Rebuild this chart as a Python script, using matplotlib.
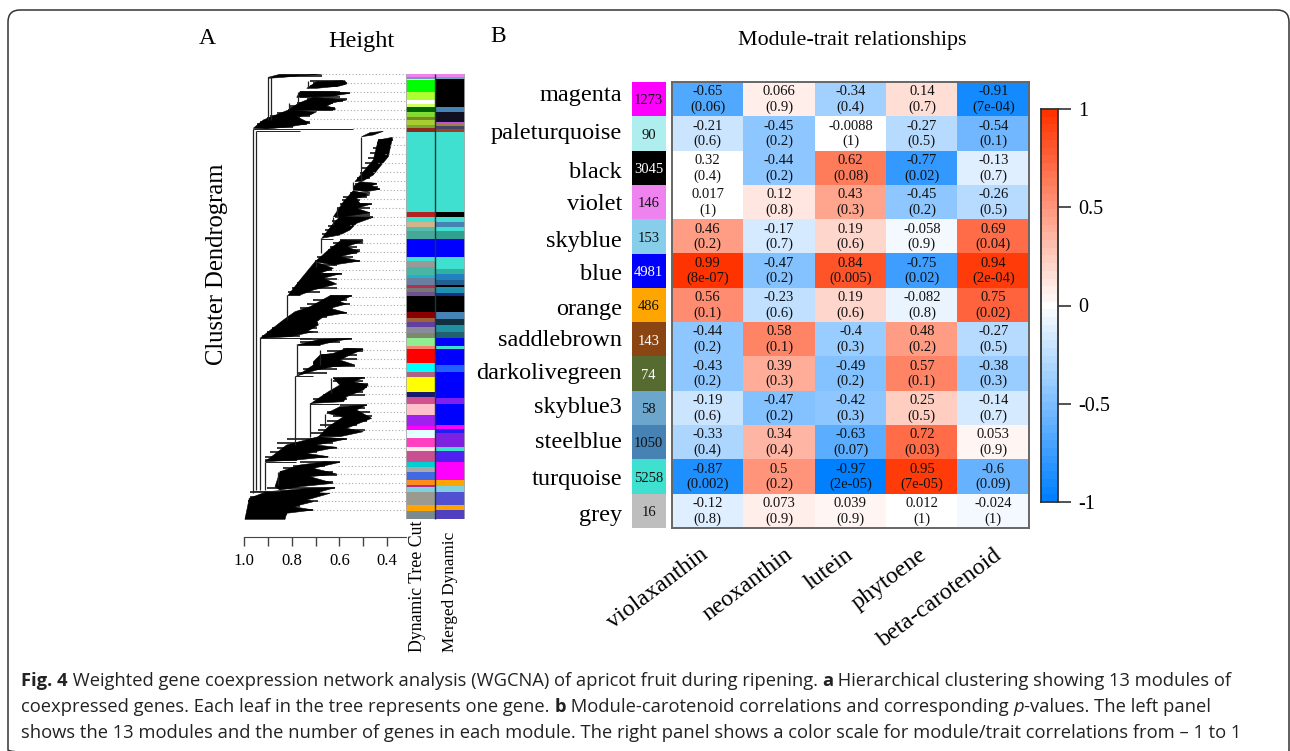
#!/usr/bin/env python3
#encoding: utf-8

import numpy as np
import matplotlib
matplotlib.use('Agg')
import matplotlib.pyplot as plt
from matplotlib.colors import LinearSegmentedColormap
from matplotlib.patches import FancyBboxPatch

plt.rcParams['font.family'] = ['Liberation Serif', 'DejaVu Serif']

# 模块 / 性状
modules = ['magenta', 'paleturquoise', 'black', 'violet', 'skyblue', 'blue', 'orange',
           'saddlebrown', 'darkolivegreen', 'skyblue3', 'steelblue', 'turquoise', 'grey']
module_colors = ['#FF00FF', '#AFEEEE', '#000000', '#EE82EE', '#87CEEB', '#0000FF', '#FFA500',
                 '#8B4513', '#556B2F', '#6CA6CD', '#4682B4', '#40E0D0', '#BEBEBE']
module_sizes = [1273, 90, 3045, 146, 153, 4981, 486, 143, 74, 58, 1050, 5258, 16]
traits = ['violaxanthin', 'neoxanthin', 'lutein', 'phytoene', 'beta-carotenoid']

cor_text = [['-0.65', '0.066', '-0.34', '0.14', '-0.91'],
            ['-0.21', '-0.45', '-0.0088', '-0.27', '-0.54'],
            ['0.32', '-0.44', '0.62', '-0.77', '-0.13'],
            ['0.017', '0.12', '0.43', '-0.45', '-0.26'],
            ['0.46', '-0.17', '0.19', '-0.058', '0.69'],
            ['0.99', '-0.47', '0.84', '-0.75', '0.94'],
            ['0.56', '-0.23', '0.19', '-0.082', '0.75'],
            ['-0.44', '0.58', '-0.4', '0.48', '-0.27'],
            ['-0.43', '0.39', '-0.49', '0.57', '-0.38'],
            ['-0.19', '-0.47', '-0.42', '0.25', '-0.14'],
            ['-0.33', '0.34', '-0.63', '0.72', '0.053'],
            ['-0.87', '0.5', '-0.97', '0.95', '-0.6'],
            ['-0.12', '0.073', '0.039', '0.012', '-0.024']]
p_text = [['0.06', '0.9', '0.4', '0.7', '7e-04'],
          ['0.6', '0.2', '1', '0.5', '0.1'],
          ['0.4', '0.2', '0.08', '0.02', '0.7'],
          ['1', '0.8', '0.3', '0.2', '0.5'],
          ['0.2', '0.7', '0.6', '0.9', '0.04'],
          ['8e-07', '0.2', '0.005', '0.02', '2e-04'],
          ['0.1', '0.6', '0.6', '0.8', '0.02'],
          ['0.2', '0.1', '0.3', '0.2', '0.5'],
          ['0.2', '0.3', '0.2', '0.1', '0.3'],
          ['0.6', '0.2', '0.3', '0.5', '0.7'],
          ['0.4', '0.4', '0.07', '0.03', '0.9'],
          ['0.002', '0.2', '2e-05', '7e-05', '0.09'],
          ['0.8', '0.9', '0.9', '1', '1']]

# 聚类树：虚线行的树梢高度
tip_heights = [.674, .570, .556, .570, .611, .723, .542, .381, .388, .409, .437, .458, .444,
               .430, .514, .465, .472, .556, .598, .500, .514, .514, .632, .611, .611,
               .549, .556, .570, .688, .688, .549, .500, .528, .534, .500, .486, .493, .486,
               .472, .465, .493, .556, .611, .646, .605, .611, .618, .646, .688, .709]

# 聚类树：黑色分支团块的轮廓 (高度, 叶序)
clump_h = [
    [.898, .849, .674, .765, .835, .898],
    [.737, .695, .577, .570, .598, .625, .695],
    [.779, .765, .625, .556, .625, .695],
    [.814, .772, .709, .570, .625, .653, .618, .618, .765],
    [.961, .919, .814, .695, .723, .779, .723, .807, .905],
    [.507, .472, .416, .458],
    [.535, .458, .437, .377, .395, .430, .458, .500],
    [.542, .514, .444, .465, .430, .486, .542],
    [.625, .583, .542, .472, .528, .514, .465, .528, .472, .583],
    [.674, .625, .598, .458, .528, .556, .598],
    [.702, .646, .591, .500, .570, .514, .598, .514, .625],
    [.814, .765, .702, .625, .681, .591, .667, .611, .709, .765],
    [.933, .835, .786, .723, .639, .549, .598, .570, .639, .570, .667, .695, .688, .737, .709, .807],
    [.779, .681, .549, .625, .681],
    [.709, .681, .625, .570, .500, .556, .598, .535, .625, .695, .779, .709],
    [.723, .646, .598, .625, .493, .542, .479, .500, .570, .583, .709],
    [.688, .646, .583, .653, .598, .486, .528, .465, .500, .570, .500, .598],
    [.912, .821, .688, .570, .695, .611, .737, .646, .779],
    [.870, .849, .765, .660, .598, .709, .611, .723, .625, .765, .849],
    [.996, .978, .905, .723, .618, .695, .639, .737, .709, .793, .709, .821, .828],
]
clump_order = [
    [77.3, 74.3, 74.3, 75.7, 77.3, 78.3],
    [88.3, 81.7, 80.7, 84, 86, 86.7, 88.3],
    [97.3, 91.7, 91.7, 93.3, 96, 96.7],
    [110, 103.3, 97.3, 100, 102.7, 106, 108.3, 110, 110],
    [128.3, 120, 110, 111.7, 115, 116.7, 123.3, 126.7, 129],
    [136.7, 132.7, 131.3, 135],
    [181.7, 160, 140, 137.3, 156.7, 166.7, 175, 180.7],
    [186.7, 181.7, 183.3, 186, 189.3, 191.7, 190],
    [216.7, 201.7, 190.7, 195, 198.3, 203.3, 204, 208.3, 212.7, 216.7],
    [238.3, 223.3, 216.7, 217.3, 223.3, 230, 235],
    [261.7, 250, 240, 241, 246.7, 251.7, 256.7, 261, 265],
    [295, 280, 261.7, 268.3, 273.3, 273.3, 278.3, 284, 290, 295],
    [338.3, 320, 311.7, 306.7, 295.7, 295.7, 301.7, 304, 308.3, 312.7, 316.7, 321.7, 325, 331.7, 331.7, 336.7],
    [345, 339.3, 338.3, 341.7, 345],
    [361.7, 355, 353.3, 348.3, 349.3, 355, 360, 365, 366.7, 370, 376, 365],
    [404, 391.7, 385, 378.3, 377.3, 381.7, 385, 390, 396.7, 401.7, 403.3],
    [436.7, 426.7, 416.7, 413.3, 406.7, 405, 410, 418.3, 421.7, 428.3, 431.7, 436.7],
    [461.7, 445, 436.7, 439, 445, 447.3, 453.3, 456.7, 460],
    [486.7, 471.7, 465, 461.7, 462.3, 468.3, 474, 476.7, 483.3, 486.7, 490],
    [519.3, 498.3, 491.7, 488.3, 487.7, 492.7, 493.3, 500, 501.7, 506.7, 510, 513.3, 519.3],
]

# 聚类树：团块里伸出的细枝 (叶序, 左高度, 右高度)
ray_order = [75.7, 81, 82.7, 84.3, 86, 91.7, 93.3, 95, 97.3, 99.3, 101, 103.3, 105.7, 108.3, 110,
             113.3, 116, 118.3, 121.7, 124, 126.7, 140, 143.3, 148.3, 153.3, 158.3, 163.3, 168.3,
             173.3, 178.3, 184, 186.7, 189.3, 192.7, 196.7, 200, 204, 208.3, 212.7, 215, 217.3,
             220.7, 225.7, 230, 234.3, 240, 243.3, 246.7, 250, 252.7, 256.7, 261, 265, 270, 274,
             279, 283.3, 288, 291.7, 295.7, 300, 304, 308.3, 312.7, 316.7, 323.3, 328.3, 332.3,
             336, 339, 341.7, 348.7, 351.3, 355, 359, 363.3, 366, 369.3, 372.7, 377.7, 380.7, 384,
             387.3, 391.7, 395, 399.3, 405.3, 408.3, 412.3, 416, 420.7, 425, 430, 433.3, 439,
             443.3, 448, 452.3, 456.7, 460, 462.3, 465.7, 468.3, 471.7, 475, 478.3, 481.7, 484.3,
             487.7, 492.3, 496.7, 501.3, 506, 510, 514, 518.3]
ray_left = [.849, .723, .709, .695, .723, .765, .751, .751, .765, .737, .723, .779, .807, .807, .814,
            .863, .891, .905, .933, .947, .947, .437, .444, .458, .472, .479, .493, .507,
            .514, .528, .535, .528, .535, .556, .583, .591, .598, .611, .611, .618, .618,
            .632, .646, .660, .674, .598, .625, .639, .646, .653, .695, .702, .702, .716, .737,
            .758, .779, .800, .814, .639, .709, .737, .765, .786, .821, .849, .884, .905,
            .926, .765, .765, .583, .653, .681, .695, .709, .709, .751, .779, .625, .625, .598,
            .598, .639, .667, .709, .598, .598, .653, .625, .653, .681, .688, .723, .821,
            .863, .863, .891, .912, .912, .765, .793, .835, .849, .821, .849, .863, .863,
            .905, .975, .975, .982, .982, .989, .989, .996]
ray_right = [.674, .583, .570, .577, .604, .598, .556, .611, .598, .570, .583, .625, .653, .618, .625,
             .709, .723, .765, .723, .737, .793, .377, .388, .402, .416, .423, .437, .451,
             .465, .472, .444, .437, .430, .472, .486, .514, .465, .472, .472, .472, .458,
             .528, .556, .570, .598, .500, .500, .528, .514, .528, .542, .514, .611, .632, .591,
             .611, .625, .611, .681, .549, .570, .556, .625, .570, .653, .688, .695, .688,
             .765, .549, .598, .500, .500, .528, .528, .583, .535, .611, .653, .493, .500, .479,
             .486, .500, .493, .570, .486, .493, .472, .465, .486, .528, .493, .570, .570,
             .625, .611, .695, .646, .779, .598, .660, .709, .625, .611, .709, .625, .765,
             .618, .681, .737, .688, .765, .709, .821, .828]

# 聚类树：竖线与横线
vert_h = [.964, .950, .933, .898, .885, .730, .772, .810, .508, .542, .611, .628, .679, .700,
          .818, .776, .786, .723, .660, .637, .912, .856, .681]
vert_top = [128.5, 131, 338.3, 77, 77, 80.7, 91.7, 103.3, 136.7, 181.7, 208.3, 216.7, 238.3, 260,
            295, 345, 376, 403.3, 414, 378.3, 461.7, 471.7, 350]
vert_bot = [493.3, 490, 490, 120, 120, 88.3, 103.3, 110, 181.7, 188.3, 216.7, 225, 253.3, 266.7,
            320, 376, 445, 436.7, 426.7, 393, 490, 485, 365]
horiz_order = [129, 131, 77, 239, 295, 338.3, 345, 376, 404, 461.7, 491]
horiz_left = [.964, .950, .898, .679, .818, .933, .776, .786, .723, .912, .961]
horiz_right = [.542, .765, .885, .625, .765, .720, .681, .709, .600, .780, .850]

# 颜色条带：Dynamic Tree Cut
cut_edges = [74.3, 76.7, 79, 80, 92.3, 100, 104.3, 107.3, 111.7, 115, 117.3, 120, 125, 128.3, 131.7,
             211.7, 216.7, 221.7, 227.3, 230.7, 239, 256.7, 261, 267.3, 275, 278.3, 285, 288.3, 291.7,
             296, 311.7, 318.3, 321.7, 326.7, 333.3, 338.3, 346, 349.3, 362.7, 371.7, 376.7, 391.7,
             397.3, 404, 415, 425.7, 430, 437.7, 446.7, 451, 461.7, 466.7, 471.7, 480, 485, 486.7,
             491.7, 505, 510.7, 519.3]
cut_colors = ['#EE82EE', '#8A8AC8', '#D8E8D8', '#00FF00', '#ADFF2F', '#FFFFFF', '#CCFF66', '#006400',
              '#7FDD33', '#9ACD32', '#6B8E23', '#AACC33', '#77AA33', '#8B2A1A', '#40E0D0',
              '#B22222', '#40E0D0', '#D2B48C', '#55BBAA', '#45A99A', '#0000FF', '#40E0D0', '#999999',
              '#48B5A5', '#20B0D0', '#6A7FA0', '#B03050', '#777777', '#705090',
              '#000000', '#8B0000', '#A0603A', '#6040A0', '#8A8A9A', '#7A8A6A', '#90EE90', '#FA8072',
              '#FF0000', '#00FFFF', '#B06080', '#FFFF00', '#191970', '#D05090', '#FFC0CB', '#A020F0',
              '#FF00FF', '#E0FFFF', '#FF40C0', '#FFE8E8', '#C85090', '#00CED1', '#A9A9A9', '#4169E1',
              '#FF8C1A', '#B03090', '#80D0E0', '#9A9A90', '#FFA500', '#7A8A90']

# 颜色条带：Merged Dynamic
merged_edges = [74.3, 76.7, 79, 107.3, 111.7, 121.7, 124, 126, 129, 131.7, 211.7, 216.7, 221.7, 226.7,
                231, 239, 256.7, 269.3, 274, 280, 285, 286.7, 293.3, 296, 311.7, 319.3, 325, 331.7,
                338.3, 346, 349.3, 365, 371.7, 398.3, 404, 425, 429.3, 433.3, 446.7, 451, 461.7,
                480, 485.7, 491.7, 505, 510, 519.3]
merged_colors = ['#EE82EE', '#66AABB', '#000000', '#4682B4', '#101020', '#BA55D3', '#A08040', '#444466',
                 '#A04020', '#40E0D0', '#000000', '#40E0D0', '#4682B4', '#40E0D0', '#30A090', '#0000FF',
                 '#40E0D0', '#30B0A0', '#2080C0', '#206090', '#000000', '#2090B0', '#103090', '#000000',
                 '#4682B4', '#103040', '#2090A0', '#206070', '#0000FF', '#40E0D0', '#0000FF', '#2060FF',
                 '#0000FF', '#8020F0', '#0000FF', '#FF00FF', '#2020F0', '#8020E0', '#40E0D0', '#5020F0',
                 '#FF00FF', '#FFA500', '#80D0E0', '#5050D0', '#FFA500', '#5040C0']

dend_ticks = [1.0, .9, .8, .7, .6, .5, .4]
dend_tick_labels = ['1.0', '', '0.8', '', '0.6', '', '0.4']
cbar_ticks = [1, .5, 0, -.5, -1]
cbar_labels = ['1', '0.5', '0', '-0.5', '-1']

# 说明文字 (文字, 粗细, 斜体)
caption = [
    [('Fig. 4', 'bold', 'normal'),
     (' Weighted gene coexpression network analysis (WGCNA) of apricot fruit during ripening. ', 'normal', 'normal'),
     ('a', 'bold', 'normal'),
     (' Hierarchical clustering showing 13 modules of', 'normal', 'normal')],
    [('coexpressed genes. Each leaf in the tree represents one gene. ', 'normal', 'normal'),
     ('b', 'bold', 'normal'),
     (' Module-carotenoid correlations and corresponding ', 'normal', 'normal'),
     ('p', 'normal', 'italic'),
     ('-values. The left panel', 'normal', 'normal')],
    [('shows the 13 modules and the number of genes in each module. The right panel shows a color scale '
      'for module/trait correlations from \u2013 1 to 1', 'normal', 'normal')],
]

W, H = 1290, 751
fig = plt.figure(figsize=(W / 100, H / 100), dpi=100)


def axes_px(x0, y0, x1, y1):
    return fig.add_axes([x0 / W, 1 - y1 / H, (x1 - x0) / W, (y1 - y0) / H])


# 整张图的像素坐标层，放文字和外框
bg = axes_px(0, 0, W, H)
bg.set_xlim(0, W)
bg.set_ylim(H, 0)
bg.axis('off')
bg.add_patch(FancyBboxPatch((14, 16), 1269, 740, boxstyle='round,pad=6,rounding_size=12',
                            fc='none', ec='#333333', lw=1.1, clip_on=False))

bg.text(207, 39, 'A', fontsize=17, ha='center', va='center')
bg.text(361, 41, 'Height', fontsize=17.5, ha='center', va='center')
bg.text(498, 37, 'B', fontsize=17, ha='center', va='center')
bg.text(852, 40, 'Module-trait relationships', fontsize=15.8, ha='center', va='center')
bg.text(217, 264, 'Cluster Dendrogram', fontsize=17.7, rotation=90, ha='center', va='center')
bg.text(418, 520, 'Dynamic Tree Cut', fontsize=12.8, rotation=90, ha='center', va='top')
bg.text(450, 532, 'Merged Dynamic', fontsize=12.3, rotation=90, ha='center', va='top')

# 聚类树
tree = axes_px(205, 74, 405.7, 520)
tree.set_xlim(1.1635, .322)
tree.set_ylim(520, 74)
tree.patch.set_alpha(0)
for s in ['top', 'left', 'right']:
    tree.spines[s].set_visible(False)
tree.spines['bottom'].set_position(('outward', 12.2))
tree.spines['bottom'].set_bounds(1.0, .322)
tree.spines['bottom'].set_color('#444444')
tree.set_yticks([])
tree.set_xticks(dend_ticks)
tree.set_xticklabels(dend_tick_labels, fontsize=12)
tree.tick_params(axis='x', length=6.8, width=1, color='#444444', pad=5)

leaf_rows = np.linspace(74.3, 510, len(tip_heights))
tree.hlines(leaf_rows, tip_heights, .322, color='#aaaaaa', lw=.8, linestyles=(0, (1, 2)))
for hs, orders in zip(clump_h, clump_order):
    tree.fill(hs, orders, color='black', lw=.4)
tree.hlines(ray_order, ray_left, ray_right, color='black', lw=1.1)
tree.vlines(vert_h, vert_top, vert_bot, color='#222222', lw=.9)
tree.hlines(horiz_order, horiz_left, horiz_right, color='#222222', lw=.7)

# 颜色条带
strip = axes_px(405.5, 74, 464.5, 520)
strip.set_xlim(0, 2)
strip.set_ylim(520, 74)
strip.axis('off')
strip.bar(0.5, np.diff(cut_edges), 1, bottom=cut_edges[:-1], color=cut_colors)
strip.bar(1.5, np.diff(merged_edges), 1, bottom=merged_edges[:-1], color=merged_colors)
strip.vlines(1, 74.3, 519.3, color='#1a3a3a', lw=1)
strip.vlines([0, 2], 74.3, 519.3, color='#aaaaaa', lw=1.2)

# 热图
cmap = LinearSegmentedColormap.from_list('bwr_wgcna', ['#0080FF', '#FFFFFF', '#FF3300'], N=51)
cor = np.array(cor_text, dtype=float)
shade = cor.copy()
shade[2, 0] = 0  # 原图这个格子是白的
heat = axes_px(672, 82, 1029, 528)
heat.imshow(shade, cmap=cmap, vmin=-1, vmax=1, aspect='auto', interpolation='nearest')
heat.set_xticks([])
heat.set_yticks([])
for s in heat.spines.values():
    s.set_color('#666666')
    s.set_linewidth(1.4)
for i in range(len(modules)):
    for j in range(len(traits)):
        heat.annotate(cor_text[i][j], (j, i), xytext=(0, 5.3), textcoords='offset points',
                      ha='center', va='center', fontsize=10.5, color='#111111')
        heat.annotate('(' + p_text[i][j] + ')', (j, i), xytext=(0, -5.8), textcoords='offset points',
                      ha='center', va='center', fontsize=10.5, color='#111111')

# 左边的模块色块
side = axes_px(631.5, 82, 666, 528)
side.set_xlim(0, 1)
side.set_ylim(len(modules) - .5, -.5)
side.axis('off')
side.barh(range(len(modules)), 1, 1, color=module_colors)
white_text = ['black', 'blue', 'saddlebrown', 'darkolivegreen']
for i, m in enumerate(modules):
    side.text(.5, i + .05, str(module_sizes[i]), ha='center', va='center', fontsize=10.5,
              color='white' if m in white_text else '#111111')

label_y = [96, 134, 172, 204, 242, 275, 309, 341, 374, 407, 443, 479, 515]
for m, y in zip(modules, label_y):
    bg.text(622, y, m, ha='right', va='center', fontsize=17.5)

trait_x = [699, 784, 845, 918, 993]
for name, x in zip(traits, trait_x):
    bg.text(x, 544, name, ha='right', va='top', rotation=37, rotation_mode='anchor', fontsize=17.3)

# 颜色条
cbar = axes_px(1041, 109, 1058, 502)
cbar.imshow(np.linspace(1, -1, 51)[:, None], cmap=cmap, vmin=-1, vmax=1, aspect='auto',
            extent=[0, 1, -1, 1], interpolation='nearest')
cbar.set_xticks([])
cbar.yaxis.tick_right()
cbar.set_yticks(cbar_ticks)
cbar.set_yticklabels(cbar_labels, fontsize=14.5)
cbar.tick_params(axis='y', length=9.5, width=1.2, color='#333333', pad=5)
for s in cbar.spines.values():
    s.set_color('#333333')
    s.set_linewidth(1.3)

# 说明文字
renderer = fig.canvas.get_renderer()
caption_font = ['Open Sans', 'DejaVu Sans']
for line, y in zip(caption, [686, 712, 738]):
    x = 21
    for txt, weight, style in line:
        bg.text(x, y, txt, fontsize=13.2, va='baseline', ha='left', fontweight=weight, fontstyle=style,
                family=caption_font, color='#222222')
        # 末尾空格也要算进宽度，量完就删
        probe = bg.text(x, y, txt.replace(' ', '\u00a0'), fontsize=13.2, fontweight=weight, fontstyle=style,
                        family=caption_font)
        x += probe.get_window_extent(renderer).width
        probe.remove()

fig.savefig('out.png', dpi=100)
